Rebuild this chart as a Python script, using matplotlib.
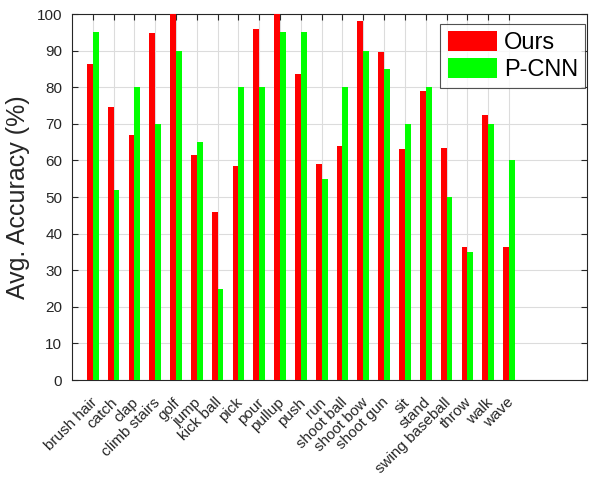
import matplotlib
matplotlib.use("Agg")
import matplotlib.pyplot as plt
import matplotlib.transforms as mtransforms
import numpy as np

plt.rcParams['font.family'] = ['Liberation Sans', 'DejaVu Sans']

categories = ["brush hair", "catch", "clap", "climb stairs", "golf", "jump", "kick ball",
              "pick", "pour", "pullup", "push", "run", "shoot ball", "shoot bow",
              "shoot gun", "sit", "stand", "swing baseball", "throw", "walk", "wave"]
ours = [86.3, 74.7, 67.0, 94.7, 100.0, 61.6, 45.8, 58.6, 96.0, 100.0, 83.6, 59.1,
        64.0, 98.0, 89.5, 63.1, 79.1, 63.4, 36.4, 72.5, 36.4]
pcnn = [95, 52, 80, 70, 90, 65, 25, 80, 80, 95, 95, 55, 80, 90, 85, 70, 80, 50, 35, 70, 60]

fig = plt.figure(figsize=(5.89, 4.82), dpi=100)
ax = fig.add_axes([0.1222, 0.2116, 0.8744, 0.7593])

x = np.arange(1, len(categories) + 1)
w = 0.28
ax.bar(x - w / 2, ours, width=w, color='#ff0000', label='Ours', zorder=3)
ax.bar(x + w / 2, pcnn, width=w, color='#00ff00', label='P-CNN', zorder=3)

ax.set_xlim(0, 24.75)
ax.set_ylim(0, 100)
ax.set_yticks(np.arange(0, 101, 10))
ax.set_xticks(x)
ax.set_xticklabels(categories, rotation=45, ha='right', rotation_mode='anchor', fontsize=11)
ax.tick_params(axis='both', direction='in', top=True, right=True, length=4,
               width=0.8, colors='#262626', labelsize=11)
ax.tick_params(axis='x', pad=11)
ax.tick_params(axis='y', pad=7)
offset = mtransforms.ScaledTranslation(-2 / 72, 0, fig.dpi_scale_trans)
for lbl in ax.get_xticklabels():
    lbl.set_transform(lbl.get_transform() + offset)
ax.grid(True, color='#dcdcdc', linewidth=0.8, zorder=0)
ax.set_axisbelow(True)
for s in ax.spines.values():
    s.set_color('#262626')
    s.set_linewidth(0.8)

ax.set_ylabel('Avg. Accuracy (%)', fontsize=18, color='#262626', labelpad=5)

leg = ax.legend(loc='upper right', fontsize=17, frameon=True, fancybox=False,
                edgecolor='#262626', handlelength=2.1, handleheight=0.93,
                borderpad=0.3, labelspacing=0.15, handletextpad=0.3,
                bbox_to_anchor=(0.997, 0.973), borderaxespad=0)
leg.get_frame().set_linewidth(0.8)

fig.savefig('out.png', dpi=100)
